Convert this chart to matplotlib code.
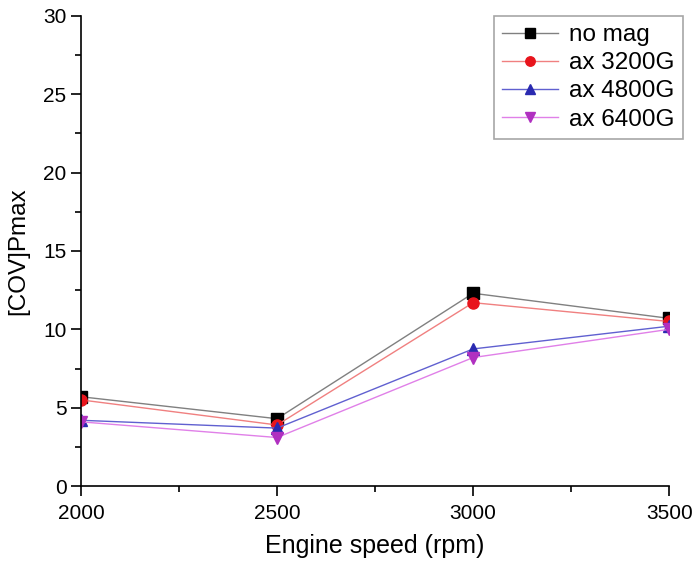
import matplotlib.pyplot as plt
from matplotlib.ticker import MultipleLocator

plt.rcParams['font.family'] = ['Liberation Sans', 'DejaVu Sans']

# data
speed = [2000, 2500, 3000, 3500]
no_mag = [5.7, 4.3, 12.3, 10.7]
ax_3200 = [5.5, 3.9, 11.7, 10.5]
ax_4800 = [4.2, 3.7, 8.75, 10.2]
ax_6400 = [4.1, 3.1, 8.2, 10.0]

series = [
    ('no mag', no_mag, 's', 'black', '#808080'),
    ('ax 3200G', ax_3200, 'o', '#e8141c', '#f08080'),
    ('ax 4800G', ax_4800, '^', '#2a2ab0', '#6060d0'),
    ('ax 6400G', ax_6400, 'v', '#b030c0', '#e080e8'),
]

fig = plt.figure(figsize=(6.92, 5.62), dpi=100)
ax = fig.add_axes([0.117, 0.135, 0.85, 0.837])

for label, vals, m, mc, lc in series:
    ax.plot(speed, vals, color=lc, lw=1.0, marker=m, markersize=8,
            markerfacecolor=mc, markeredgecolor=mc, label=label)

ax.set_xlim(2000, 3500)
ax.set_ylim(0, 30)
ax.xaxis.set_major_locator(MultipleLocator(500))
ax.xaxis.set_minor_locator(MultipleLocator(250))
ax.yaxis.set_major_locator(MultipleLocator(5))
ax.yaxis.set_minor_locator(MultipleLocator(2.5))
ax.tick_params(which='major', length=7, width=1.2, labelsize=15, direction='out')
ax.tick_params(which='minor', length=4, width=1.2, direction='out')
ax.tick_params(axis='x', which='major', pad=6)
for s in ['top', 'right']:
    ax.spines[s].set_visible(False)
for s in ['left', 'bottom']:
    ax.spines[s].set_linewidth(1.2)

ax.set_xlabel('Engine speed (rpm)', fontsize=18, labelpad=8)
ax.set_ylabel('[COV]Pmax', fontsize=17.5)
ax.yaxis.set_label_coords(-0.088, 0.5)

leg = ax.legend(loc='upper right', bbox_to_anchor=(1.024, 1.0), fontsize=17.5,
                fancybox=False, edgecolor='#909090', handlelength=2.3,
                handletextpad=0.45, labelspacing=0.25, borderpad=0.35,
                borderaxespad=0, markerscale=0.85)
leg.get_frame().set_linewidth(1.2)

fig.savefig('out.png', dpi=100)
